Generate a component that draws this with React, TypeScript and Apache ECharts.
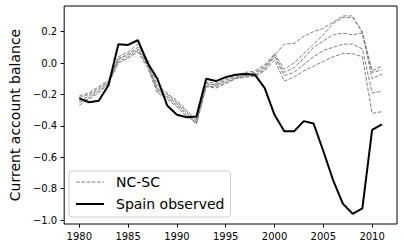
import React, { useEffect, useRef } from "react";
import * as echarts from "echarts";

const years: number[] = Array.from({ length: 32 }, (_, i) => 1980 + i);

const spainObserved: number[] = [
  -0.225, -0.25, -0.24, -0.14, 0.12, 0.115, 0.145, 0.0, -0.1, -0.27,
  -0.33, -0.345, -0.34, -0.1, -0.115, -0.09, -0.075, -0.07, -0.075, -0.16,
  -0.33, -0.435, -0.435, -0.37, -0.385, -0.56, -0.745, -0.895, -0.96, -0.925, -0.425, -0.39,
];

const ncsc1: number[] = [
  -0.21, -0.19, -0.15, -0.11, 0.04, 0.07, 0.12, 0.02, -0.14, -0.19,
  -0.24, -0.3, -0.36, -0.12, -0.13, -0.1, -0.08, -0.06, -0.05, -0.01,
  0.05, 0.12, 0.125, 0.17, 0.2, 0.22, 0.26, 0.3, 0.3, 0.19, -0.05, -0.02,
];
const ncsc2: number[] = [
  -0.24, -0.21, -0.17, -0.12, 0.02, 0.06, 0.1, 0.0, -0.16, -0.2,
  -0.25, -0.31, -0.37, -0.13, -0.14, -0.11, -0.09, -0.07, -0.06, -0.02,
  0.06, -0.04, 0.0, 0.06, 0.12, 0.18, 0.25, 0.29, 0.29, 0.2, -0.06, -0.045,
];
const ncsc3: number[] = [
  -0.22, -0.2, -0.16, -0.12, 0.03, 0.05, 0.09, -0.01, -0.17, -0.21,
  -0.26, -0.32, -0.38, -0.14, -0.14, -0.12, -0.095, -0.08, -0.07, -0.03,
  0.05, -0.06, -0.03, 0.03, 0.1, 0.14, 0.18, 0.19, 0.18, 0.19, -0.1, -0.07,
];
const ncsc4: number[] = [
  -0.27, -0.22, -0.18, -0.13, 0.01, 0.04, 0.08, -0.02, -0.18, -0.22,
  -0.27, -0.33, -0.39, -0.15, -0.15, -0.13, -0.1, -0.085, -0.08, -0.04,
  0.04, -0.08, -0.06, -0.01, 0.04, 0.08, 0.1, 0.12, 0.12, 0.09, -0.19, -0.18,
];
const ncsc5: number[] = [
  -0.25, -0.23, -0.19, -0.13, 0.0, 0.03, 0.07, -0.03, -0.19, -0.23,
  -0.28, -0.34, -0.38, -0.15, -0.16, -0.13, -0.1, -0.09, -0.085, -0.05,
  0.02, -0.115, -0.09, -0.05, -0.02, 0.01, 0.04, 0.06, 0.06, 0.04, -0.32, -0.31,
];

const ncscSeries: number[][] = [ncsc1, ncsc2, ncsc3, ncsc4, ncsc5];

const xTicks: number[] = [1980, 1985, 1990, 1995, 2000, 2005, 2010];
const yTicks: number[] = [-1.0, -0.8, -0.6, -0.4, -0.2, 0.0, 0.2];

const FONT = "DejaVu Sans";

export default function App() {
  const ref = useRef<HTMLDivElement>(null);

  useEffect(() => {
    if (!ref.current) return;
    const chart = echarts.init(ref.current, undefined, { renderer: "svg" });

    const greySeries = ncscSeries.map((vals) => ({
      name: "NC-SC",
      type: "line",
      data: years.map((y, i) => [y, vals[i]]),
      symbol: "none",
      lineStyle: { color: "#808080", width: 1, type: [3.7, 1.6] },
      itemStyle: { color: "#808080" },
      z: 2,
    }));

    chart.setOption({
      animation: false,
      grid: {
        left: 62,
        right: 7,
        top: 6,
        bottom: 24,
        show: true,
        borderColor: "#000",
        borderWidth: 1,
        backgroundColor: "transparent",
      },
      xAxis: {
        type: "value",
        min: 1978.45,
        max: 2012.55,
        axisLine: { show: false, onZero: false },
        splitLine: { show: false },
        axisTick: {
          show: true,
          length: 3.5,
          lineStyle: { color: "#000" },
          customValues: xTicks,
        },
        axisLabel: {
          customValues: xTicks,
          margin: 7,
          color: "#000",
          fontFamily: FONT,
          fontSize: 10,
          formatter: (v: number) => String(v),
        },
      },
      yAxis: {
        type: "value",
        min: -1.025,
        max: 0.363,
        name: "Current account balance",
        nameLocation: "middle",
        nameGap: 41,
        nameRotate: 90,
        nameTextStyle: { fontFamily: FONT, fontSize: 14, color: "#000" },
        axisLine: { show: false, onZero: false },
        splitLine: { show: false },
        axisTick: {
          show: true,
          length: 3.5,
          lineStyle: { color: "#000" },
          customValues: yTicks,
        },
        axisLabel: {
          customValues: yTicks,
          margin: 7,
          color: "#000",
          fontFamily: FONT,
          fontSize: 10,
          formatter: (v: number) => v.toFixed(1).replace("-", "\u2212"),
        },
      },
      legend: {
        orient: "vertical",
        left: 69,
        top: 171,
        padding: [3, 6, 5, 6],
        itemWidth: 28,
        itemHeight: 14,
        itemGap: 6,
        backgroundColor: "rgba(255,255,255,0.8)",
        borderColor: "#cccccc",
        borderWidth: 1,
        borderRadius: 3,
        textStyle: {
          fontFamily: FONT,
          fontSize: 14,
          color: "#000",
          lineHeight: 16,
          padding: [0, 0, 0, 7],
        },
        data: [
          {
            name: "NC-SC",
            itemStyle: { opacity: 0 },
            lineStyle: { width: 1, color: "#808080", type: [3.7, 1.6] },
          },
          {
            name: "Spain observed",
            itemStyle: { opacity: 0 },
            lineStyle: { width: 2, color: "#000" },
          },
        ],
      },
      series: [
        ...greySeries,
        {
          name: "Spain observed",
          type: "line",
          data: years.map((y, i) => [y, spainObserved[i]]),
          symbol: "none",
          lineStyle: { color: "#000", width: 2 },
          itemStyle: { color: "#000" },
          z: 3,
        },
      ],
    });

    return () => chart.dispose();
  }, []);

  return (
    <div
      ref={ref}
      style={{ position: "fixed", left: 0, top: 0, width: 404, height: 248, background: "#fff" }}
    />
  );
}
